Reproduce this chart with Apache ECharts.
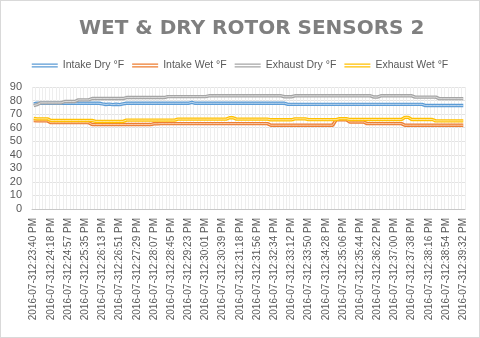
<!DOCTYPE html>
<html>
<head>
<meta charset="utf-8">
<script src="https://cdn.jsdelivr.net/npm/echarts@6/dist/echarts.min.js"></script>
<style>
html,body{margin:0;padding:0;background:#fff;}
#chart{width:480px;height:338px;box-sizing:border-box;border:1px solid #d9d9d9;}
</style>
</head>
<body>
<div id="chart"></div>
<script>
var tickLabels = [
  "2016-07-312:23:40 PM","2016-07-312:24:18 PM","2016-07-312:24:57 PM","2016-07-312:25:35 PM",
  "2016-07-312:26:13 PM","2016-07-312:26:51 PM","2016-07-312:27:29 PM","2016-07-312:28:07 PM",
  "2016-07-312:28:45 PM","2016-07-312:29:23 PM","2016-07-312:30:01 PM","2016-07-312:30:39 PM",
  "2016-07-312:31:18 PM","2016-07-312:31:56 PM","2016-07-312:32:34 PM","2016-07-312:33:12 PM",
  "2016-07-312:33:50 PM","2016-07-312:34:28 PM","2016-07-312:35:06 PM","2016-07-312:35:44 PM",
  "2016-07-312:36:22 PM","2016-07-312:37:00 PM","2016-07-312:37:38 PM","2016-07-312:38:16 PM",
  "2016-07-312:38:54 PM","2016-07-312:39:32 PM"
];
var yTicks = [0,10,20,30,40,50,60,70,80,90];
var seriesNames = ["Intake Dry °F","Intake Wet °F","Exhaust Dry °F","Exhaust Wet °F"];
var seriesColors = ["#5B9BD5","#ED7D31","#A5A5A5","#FFC000"];

var intakeDry = [
  77.5,
  78,78,78,78,78,78,78,78,78,78,78,78,78,78,78,78,78,78,78,
  77.5,77.1,77.4,77.0,77.3,77.0,77.6,
  78,78,78,78,78,78,78,78,78,78,78,78,78,78,78,78,78,78,78,
  78.7,
  78,78,78,78,78,78,78,78,78,78,78,78,78,78,78,78,78,78,78,78,78,78,78,78,78,78,78,
  77.2,77.2,77.2,77.2,77.2,77.2,77.2,77.2,77.2,77.2,77.2,77.2,77.2,77.2,77.2,77.2,77.2,77.2,77.2,77.2,
  77.2,77.2,77.2,77.2,77.2,77.2,77.2,77.2,77.2,77.2,77.2,77.2,77.2,77.2,77.2,77.2,77.2,77.2,77.2,77.2,
  76.3,76.3,76.3,76.3,76.3,76.3,76.3,76.3,76.3,76.3,76.3,76.3
];
var intakeWet = [
  65.2,65,65,65,65,
  63.7,63.7,63.7,63.7,63.7,63.7,63.7,63.7,63.7,63.7,63.7,63.7,
  62.3,62.3,62.3,62.3,62.3,62.3,62.3,62.3,62.3,62.3,62.3,62.3,62.3,62.3,62.3,62.3,62.3,62.3,
  62.9,62.9,
  63,63,63,63,63,63,63,63,63,63,63,63,63,63,63,63,
  63,63,63,63,63,63,63,63,63,63,63,63,63,63,63,63,
  61.8,61.8,61.8,61.8,61.8,61.8,61.8,61.8,61.8,61.8,61.8,61.8,61.8,61.8,61.8,61.8,61.8,61.8,61.8,
  65.8,65.8,65.8,65.8,
  64.2,64.2,64.2,64.2,64.2,
  63,63,63,63,63,63,63,63,63,63,63,
  61.8,61.8,61.8,61.8,61.8,61.8,61.8,61.8,61.8,61.8,61.8,61.8,61.8,61.8,61.8,61.8,61.8,61.8
];
var exhaustDry = [
  76.3,77,
  78.3,78.3,78.3,78.3,78.3,78.3,78.3,
  79.3,79.3,79.3,79.3,
  80.5,80.5,80.5,80.5,
  81.5,81.5,81.5,81.5,81.5,81.5,81.5,81.5,81.5,81.5,
  82.2,82.2,82.2,82.2,82.2,82.2,82.2,82.2,82.2,82.2,82.2,82.2,
  82.9,82.9,82.9,82.9,82.9,82.9,82.9,82.9,82.9,82.9,82.9,82.9,
  83.5,83.5,83.5,83.5,83.5,83.5,83.5,83.5,83.5,83.5,83.5,83.5,83.5,83.5,83.5,83.5,83.5,83.5,83.5,83.5,83.5,83.5,
  82.8,82.8,82.8,
  83.5,83.5,83.5,83.5,83.5,83.5,83.5,83.5,83.5,83.5,83.5,83.5,83.5,83.5,83.5,83.5,83.5,83.5,83.5,83.5,83.5,83.5,83.5,
  82.6,82.6,
  83.5,83.5,83.5,83.5,83.5,83.5,83.5,83.5,83.5,83.5,
  82.5,82.5,82.5,82.5,82.5,82.5,82.5,
  81.4,81.4,81.4,81.4,81.4,81.4,81.4,81.4
];
var exhaustWet = [
  66.8,66.5,66.5,66.5,66.5,
  65.3,65.3,65.3,65.3,65.3,65.3,65.3,65.3,65.3,65.3,65.3,65.3,65.3,
  64.6,64.6,64.6,64.6,64.6,64.6,64.6,64.6,64.6,
  65.6,65.6,65.6,65.6,65.6,65.6,65.6,65.6,65.6,65.6,65.6,65.6,65.6,65.6,65.6,
  66.3,66.3,66.3,66.3,66.3,66.3,66.3,66.3,66.3,66.3,66.3,66.3,66.3,66.3,66.3,
  67.3,67.3,
  66.3,66.3,66.3,66.3,66.3,66.3,66.3,66.3,66.3,66.3,
  65.8,65.8,65.8,65.8,65.8,65.8,65.8,
  66.5,66.5,66.5,66.5,
  65.9,65.9,65.9,65.9,65.9,65.9,65.9,65.9,65.9,
  66.6,66.6,66.6,
  66,66,66,66,66,66,66,66,66,66,66,66,66,66,66,66,
  67.6,67.6,
  66,66,66,66,66,66,66,
  65,65,65,65,65,65,65,65,65
];

var subSteps = 5;
var categories = [];
tickLabels.forEach(function (lab, k) {
  categories.push(lab);
  if (k < tickLabels.length - 1) {
    for (var j = 1; j < subSteps; j++) categories.push("");
  }
});

var allData = [intakeDry, intakeWet, exhaustDry, exhaustWet];
var series = [];
allData.forEach(function (d, i) {
  series.push({
    name: seriesNames[i], type: 'line', data: d, symbol: 'none', z: 2 + i,
    lineStyle: { color: seriesColors[i], width: 3.4 }, itemStyle: { color: seriesColors[i] }
  });
});
allData.forEach(function (d, i) {
  series.push({
    name: seriesNames[i] + ' inner', type: 'line', data: d, symbol: 'none', z: 2 + i,
    lineStyle: { color: '#ffffff', width: 1, opacity: 0.6 }, silent: true
  });
});

var chart = echarts.init(document.getElementById('chart'), null, { renderer: 'canvas' });
chart.setOption({
  animation: false,
  backgroundColor: '#ffffff',
  title: {
    text: 'WET & DRY ROTOR SENSORS 2',
    left: 73, top: 13,
    textStyle: { fontFamily: 'DejaVu Sans', fontWeight: 'bold', fontSize: 20, color: '#7f7f7f' }
  },
  legend: {
    data: seriesNames.map(function (n, i) {
      return { name: n, icon: 'path://M0,0H26V1.2H0Z M0,2.8H26V4H0Z', itemStyle: { color: seriesColors[i] } };
    }),
    left: 'center', top: 54,
    itemWidth: 26, itemHeight: 4, itemGap: 8,
    textStyle: { fontFamily: 'Liberation Sans', fontSize: 10.5, color: '#595959' }
  },
  grid: { left: 31, right: 14, top: 86, bottom: 128, containLabel: false },
  xAxis: {
    type: 'category', data: categories, boundaryGap: true,
    axisLine: { lineStyle: { color: '#c8c8c8' } },
    axisTick: { show: false },
    axisLabel: {
      interval: subSteps - 1, rotate: 90, margin: 9,
      fontFamily: 'Liberation Sans', fontSize: 10, color: '#595959'
    },
    splitLine: { show: true, interval: 0, lineStyle: { color: '#eeeeee', width: 1 } }
  },
  yAxis: {
    type: 'value', min: yTicks[0], max: yTicks[yTicks.length - 1], interval: 10,
    axisLine: { show: false }, axisTick: { show: false },
    axisLabel: { fontFamily: 'Liberation Sans', fontSize: 11, color: '#595959', margin: 10 },
    splitLine: { lineStyle: { color: '#e3e3e3' } }
  },
  series: series
});
</script>
</body>
</html>
